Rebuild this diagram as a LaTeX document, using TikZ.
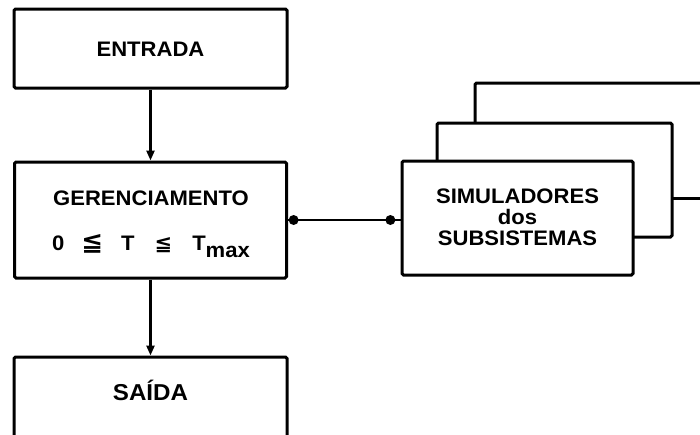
\documentclass[tikz,border=0pt]{standalone}
\usepackage{fontspec}
\setmainfont{Liberation Sans}[FakeStretch=1.05]
\newfontfamily\dejavu{DejaVu Sans}
\usetikzlibrary{arrows.meta}
\tikzset{
  box/.style={draw, line width=3pt, rounded corners=1.5pt, inner sep=0pt},
  lab/.style={font=\fontsize{21}{25}\selectfont\bfseries, inner sep=0pt, align=center},
  conn/.style={line width=2.4pt},
  arr/.style={conn, -{Triangle[length=10pt,width=8pt]}},
  dot/.style={circle, fill, inner sep=0pt, minimum size=10pt},
}
\begin{document}
\begin{tikzpicture}[x=1pt,y=-1pt]
\useasboundingbox (0,0) rectangle (700,434);
\clip (0,0) rectangle (700,434);
% stacked simulator boxes (back ones)
\draw[box] (475,123) -- (475,83) -- (710,83);
\draw[box] (672,198) -- (710,198);
\draw[box] (437,161) -- (437,123) -- (672,123) -- (672,237) -- (633,237);
% main boxes
\node[box, minimum width=273pt, minimum height=79pt] (ent) at (150.5,48.5) {};
\node[lab] (entt) at (150.5,49) {ENTRADA};
\node[box, minimum width=272pt, minimum height=116pt] (ger) at (150.5,220) {};
\node[lab] (gert1) at (151,198) {GERENCIAMENTO};
\node[lab, anchor=base] (gert2) at (151,250) {0\hspace{17pt}{\dejavu\fontsize{26}{26}\selectfont ≦}\hspace{18pt}T\hspace{20pt}{\dejavu\fontsize{21}{21}\selectfont ≦}\hspace{20pt}T\raisebox{-7pt}{max}};
\node[box, minimum width=273pt, minimum height=90pt] (saida) at (150.5,402) {};
\node[lab, font=\fontsize{23}{27}\selectfont\bfseries] (saidat) at (150.5,390) {SAÍDA};
\node[box, fill=white, minimum width=231pt, minimum height=114pt] (sim) at (517.5,218) {};
\node[lab, font=\fontsize{21}{21}\selectfont\bfseries] (simt) at (517.5,217) {SIMULADORES\\dos\\SUBSISTEMAS};
% connectors
\draw[arr] (ent.south) -- (ger.north);
\draw[arr] (ger.south) -- (saida.north);
\draw[conn] (ger.east) -- node[dot, pos=0.05] (d1) {} node[dot, pos=0.91] (d2) {} (ger.east -| sim.west);
\end{tikzpicture}
\end{document}
